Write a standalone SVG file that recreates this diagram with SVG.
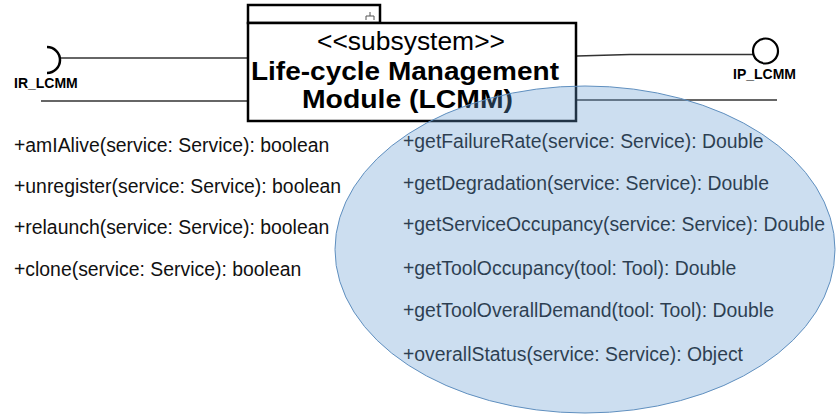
<svg xmlns="http://www.w3.org/2000/svg" width="837" height="417" viewBox="0 0 837 417">
<style>
.op{font-family:"Liberation Sans",Arial,sans-serif;font-size:19.4px;fill:#111}
.lbl{font-family:"Liberation Sans",Arial,sans-serif;font-size:14px;font-weight:bold;fill:#000}
.ln{stroke:#333;stroke-width:1.5;fill:none}
</style>
<rect width="837" height="417" fill="#fff"/>
<g id="connectors">
  <line class="ln" x1="60" y1="58" x2="248" y2="58"/>
  <line class="ln" x1="41" y1="101" x2="248" y2="101"/>
  <polyline class="ln" points="577,56 630,54.5 753,54.5"/>
  <line class="ln" x1="577" y1="100" x2="777" y2="100"/>
</g>
<g id="IR_LCMM">
  <path d="M47 47 A13 13 0 0 1 47 73" fill="none" stroke="#000" stroke-width="2.5"/>
  <text class="lbl" x="14" y="88">IR_LCMM</text>
</g>
<g id="IP_LCMM">
  <circle cx="765.5" cy="51" r="12.5" fill="#fff" stroke="#000" stroke-width="2.2"/>
  <text class="lbl" x="733" y="79">IP_LCMM</text>
</g>
<g id="LCMM">
  <rect x="248" y="5" width="132" height="18" fill="#fff" stroke="#000" stroke-width="2.5"/>
  <rect x="248" y="23" width="328" height="98" fill="#fff" stroke="#000" stroke-width="2.5"/>
  <path d="M370 12 V16 M366 20 V16 H374 V20" fill="none" stroke="#555" stroke-width="1"/>
  <text x="411" y="50" text-anchor="middle" font-family="'Liberation Sans',Arial,sans-serif" font-size="25" textLength="188" lengthAdjust="spacingAndGlyphs">&lt;&lt;subsystem&gt;&gt;</text>
  <text x="405" y="80" text-anchor="middle" font-family="'Liberation Sans',Arial,sans-serif" font-size="25" font-weight="bold" textLength="308" lengthAdjust="spacingAndGlyphs">Life-cycle Management</text>
  <text x="407.5" y="108" text-anchor="middle" font-family="'Liberation Sans',Arial,sans-serif" font-size="25" font-weight="bold" textLength="211" lengthAdjust="spacingAndGlyphs">Module (LCMM)</text>
</g>
<g id="ops-left">
  <text class="op" x="14" y="152">+amIAlive(service: Service): boolean</text>
  <text class="op" x="14" y="193">+unregister(service: Service): boolean</text>
  <text class="op" x="14" y="234">+relaunch(service: Service): boolean</text>
  <text class="op" x="14" y="276">+clone(service: Service): boolean</text>
</g>
<g id="ops-right">
  <text class="op" x="403" y="148">+getFailureRate(service: Service): Double</text>
  <text class="op" x="403" y="190">+getDegradation(service: Service): Double</text>
  <text class="op" x="403" y="231">+getServiceOccupancy(service: Service): Double</text>
  <text class="op" x="403" y="275">+getToolOccupancy(tool: Tool): Double</text>
  <text class="op" x="403" y="317">+getToolOverallDemand(tool: Tool): Double</text>
  <text class="op" x="403" y="361">+overallStatus(service: Service): Object</text>
</g>
<g id="highlight">
  <ellipse cx="585" cy="249.5" rx="250" ry="163.5" fill="#649bd1" fill-opacity="0.33" stroke="#5f8fbf" stroke-width="1"/>
</g>
</svg>
